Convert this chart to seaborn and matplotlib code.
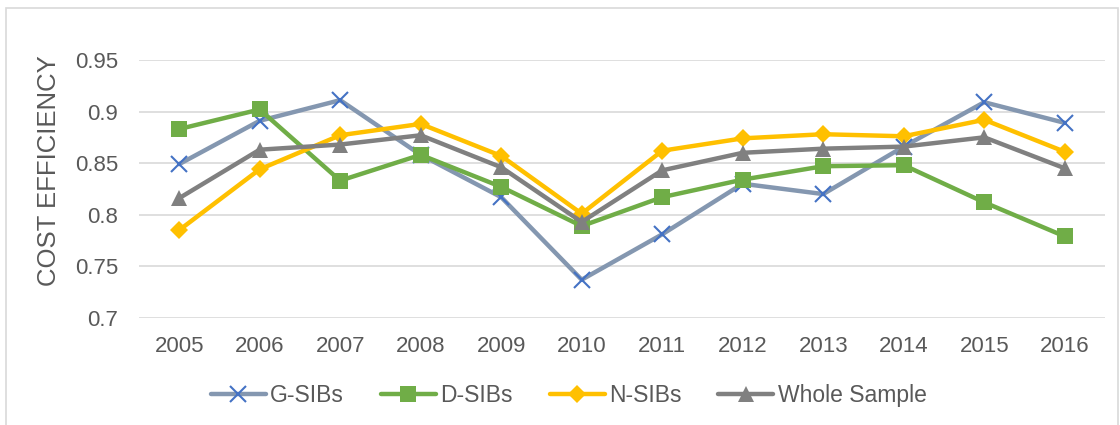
import matplotlib
matplotlib.use("Agg")
import matplotlib.pyplot as plt
import matplotlib.patches as mpatches
import seaborn as sns
import pandas as pd

years = ["2005", "2006", "2007", "2008", "2009", "2010",
         "2011", "2012", "2013", "2014", "2015", "2016"]
g_sibs = [0.849, 0.891, 0.911, 0.858, 0.817, 0.737, 0.781, 0.830, 0.820, 0.866, 0.909, 0.889]
d_sibs = [0.883, 0.902, 0.833, 0.858, 0.827, 0.789, 0.817, 0.834, 0.847, 0.848, 0.812, 0.779]
n_sibs = [0.785, 0.844, 0.877, 0.888, 0.857, 0.801, 0.862, 0.874, 0.878, 0.876, 0.892, 0.861]
whole = [0.816, 0.863, 0.868, 0.877, 0.846, 0.793, 0.843, 0.860, 0.864, 0.866, 0.875, 0.845]
yticks = [0.7, 0.75, 0.8, 0.85, 0.9, 0.95]
ytick_labels = ["0.7", "0.75", "0.8", "0.85", "0.9", "0.95"]

series = {"G-SIBs": g_sibs, "D-SIBs": d_sibs, "N-SIBs": n_sibs, "Whole Sample": whole}
df = pd.DataFrame([(y, name, v) for name, vals in series.items() for y, v in zip(years, vals)],
                  columns=["year", "group", "value"])

sns.set_style("white")
plt.rcParams["font.family"] = ["Liberation Sans", "DejaVu Sans"]

# line colour, marker, marker size, marker colour, marker edge width
styles = {
    "G-SIBs": dict(color="#8497B0", marker="x", ms=11, mec="#4472C4", mew=1.5),
    "D-SIBs": dict(color="#70AD47", marker="s", ms=12, mec="#70AD47", mew=0),
    "N-SIBs": dict(color="#FFC000", marker="D", ms=9, mec="#FFC000", mew=0),
    "Whole Sample": dict(color="#808080", marker="^", ms=11, mec="#808080", mew=0),
}

fig = plt.figure(figsize=(11.2, 4.25), dpi=100)
ax = fig.add_axes([0.124, 0.252, 0.8626, 0.607])

for name in series:
    st = styles[name]
    sns.lineplot(data=df[df["group"] == name], x="year", y="value", ax=ax, label=name,
                 color=st["color"], lw=3.2, marker=st["marker"], markersize=st["ms"],
                 markeredgecolor=st["mec"], markerfacecolor=st["mec"],
                 markeredgewidth=st["mew"], sort=False)

ax.set_xlim(-0.5, len(years) - 0.5)
ax.set_ylim(0.7, 0.95)
ax.set_yticks(yticks)
ax.set_yticklabels(ytick_labels)
ax.grid(axis="y", color="#D9D9D9", lw=1.2)
ax.set_axisbelow(True)
for s in ax.spines.values():
    s.set_visible(False)
ax.tick_params(axis="both", length=0, labelsize=16, labelcolor="#595959")
ax.tick_params(axis="y", pad=15)
ax.tick_params(axis="x", pad=13)
ax.set_xlabel("")
ax.set_ylabel("COST EFFICIENCY", fontsize=18.5, color="#595959")
ax.yaxis.set_label_coords(-0.081, 0.57)

ax.legend(loc="upper center", bbox_to_anchor=(0.445, -0.175), ncol=4, frameon=False,
          fontsize=16.5, labelcolor="#595959", handlelength=2.4, handletextpad=0.2,
          columnspacing=1.6)

fig.patches.append(mpatches.Rectangle((0.0054, -0.05), 0.993, 1.031, transform=fig.transFigure,
                                      fill=False, ec="#D9D9D9", lw=1.2))

fig.savefig("out.png", dpi=100)
